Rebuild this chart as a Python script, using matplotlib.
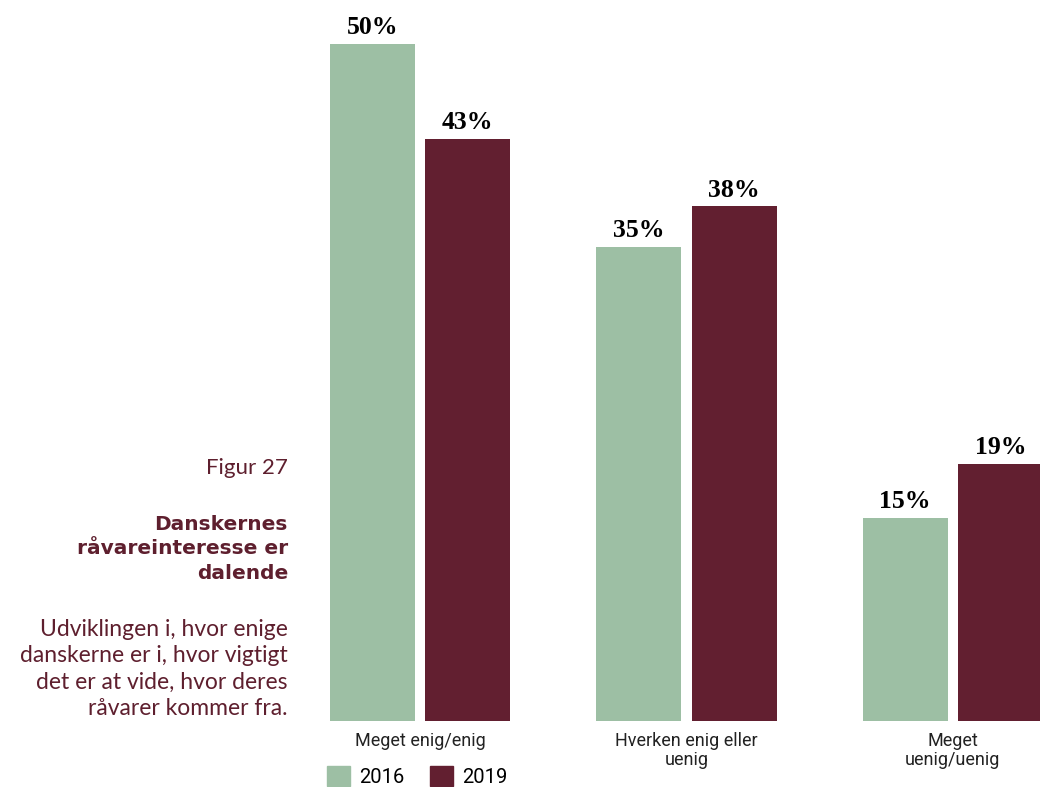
import numpy as np
import matplotlib
matplotlib.use("Agg")
import matplotlib.pyplot as plt
from matplotlib.patches import Patch

categories = ["Meget enig/enig", "Hverken enig eller\nuenig", "Meget\nuenig/uenig"]
years = ["2016", "2019"]
values_2016 = [50, 35, 15]
values_2019 = [43, 38, 19]

green = "#9dbfa4"
maroon = "#621f30"
text_col = "#5e1f2e"

plt.rcParams['font.family'] = ['Lato', 'DejaVu Sans']

fig = plt.figure(figsize=(10.4, 7.87), dpi=100)
ax = fig.add_axes([330 / 1040, 1 - 721 / 787, 1 - 330 / 1040, 721 / 787])

x = np.arange(len(categories))
w = 0.319
off = 0.179
b1 = ax.bar(x - off, values_2016, w, color=green)
b2 = ax.bar(x + off, values_2019, w, color=maroon)

for bars in (b1, b2):
    for b in bars:
        ax.annotate(f"{b.get_height():.0f}%", (b.get_x() + b.get_width() / 2, b.get_height()),
                    xytext=(0, 7), textcoords="offset points", ha="center", va="baseline",
                    fontsize=18.5, fontweight="bold", family="Liberation Serif", color="black")

ax.set_xlim(-0.338, 2.327)
ax.set_ylim(0, 53.25)
ax.axis("off")

# category labels under each group
for xi, lab in zip(x, categories):
    ax.annotate(lab, (xi, 0), xytext=(0, -8), textcoords="offset points",
                ha="center", va="top", fontsize=13, color="#222222",
                linespacing=1.05, family="Roboto")

handles = [Patch(color=green), Patch(color=maroon)]
fig.legend(handles, years, loc="lower left", bbox_to_anchor=(327 / 1040, 0),
           ncol=2, frameon=False, handlelength=1.14, handleheight=1.1,
           columnspacing=1.3, handletextpad=0.45, borderpad=0, borderaxespad=0,
           prop={"family": "Roboto", "size": 14.5})

# side text block
fig.text(288 / 1040, 1 - 468 / 787, "Figur 27", ha="right", va="center",
         fontsize=16, color=text_col)
fig.text(288 / 1040, 1 - 549 / 787, "Danskernes\nråvareinteresse er\ndalende",
         ha="right", va="center", fontsize=14.5, fontweight="bold", color=text_col,
         linespacing=1.35, family="DejaVu Sans")
fig.text(288 / 1040, 1 - 669 / 787,
         "Udviklingen i, hvor enige\ndanskerne er i, hvor vigtigt\ndet er at vide, hvor deres\nråvarer kommer fra.",
         ha="right", va="center", fontsize=16.5, color=text_col, linespacing=1.33)

fig.savefig("out.png", dpi=100, facecolor="white")
